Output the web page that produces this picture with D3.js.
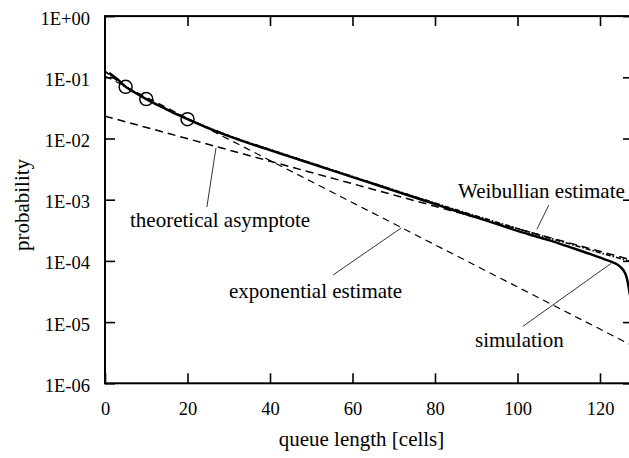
<!DOCTYPE html>
<html>
<head>
<meta charset="utf-8">
<script src="https://cdn.jsdelivr.net/npm/d3@7"></script>
<style>
  html, body { margin: 0; padding: 0; background: #fff; }
  svg { display: block; }
</style>
</head>
<body>
<svg id="chart" width="629" height="458"></svg>
<script>
// Queue length distribution: simulation vs. estimates
const xTicks = [0, 20, 40, 60, 80, 100, 120];
const yTicks = [1, 1e-1, 1e-2, 1e-3, 1e-4, 1e-5, 1e-6];

const simX = [1, 2, 3, 5, 7, 10, 13, 16, 20, 25, 30, 35, 40, 45, 50, 55, 60, 65, 70, 75,
  80, 84, 88, 92, 96, 100, 104, 108, 112, 116, 119, 121, 123, 124, 125, 126, 126.5, 127, 127.5];
const simP = [0.1175, 0.1047, 0.0933, 0.0698, 0.0575, 0.0440, 0.0347, 0.0275, 0.0207, 0.0148,
  0.01096, 0.00832, 0.00646, 0.00501, 0.00389, 0.00302, 0.00234, 0.00182, 0.00141, 0.001096,
  0.000851, 0.000692, 0.000569, 0.000468, 0.000380, 0.000309, 0.000257, 0.000214, 0.000174,
  0.000141, 0.000120, 0.000107, 0.0000955, 0.0000891, 0.0000794, 0.0000646, 0.0000525,
  0.0000355, 0.0000224];

const weibX = [0, 5, 10, 15, 20, 25, 30, 40, 50, 60, 70, 80, 90, 100, 110, 120, 128];
const weibP = [0.1259, 0.0708, 0.0447, 0.0302, 0.0211, 0.0151, 0.0112, 0.00661, 0.00398,
  0.00240, 0.00145, 0.000881, 0.000543, 0.000339, 0.000214, 0.000136, 0.0000955];

const asymX = [0, 32, 64, 96, 128];
const asymP = [0.0232, 0.00597, 0.00154, 0.000397, 0.000102];

const expoX = [0, 32, 64, 96, 128];
const expoP = [0.1047, 0.00826, 0.000653, 0.0000515, 0.00000407];

// simulated points marked with circles
const markX = [5, 10, 20];
const markP = [0.0698, 0.0440, 0.0207];

// annotation labels and their leader lines (data coordinates)
const labels = ["Weibullian estimate", "theoretical asymptote", "exponential estimate", "simulation"];
const leaderFrom = [[107.6, 8.2e-4], [24.7, 7.6e-4], [55.3, 5.9e-5], [101.3, 8.5e-6]];
const leaderTo   = [[104.7, 3.28e-4], [26.9, 7.0e-3], [71.8, 3.45e-4], [122.7, 9.1e-5]];

(function draw() {
  const FONT = '"Liberation Serif", "Times New Roman", serif';
  const svg = d3.select("#chart");
  const mLeft = 105, mRight = 633, mTop = 16.1, mBottom = 383.3;

  const x = d3.scaleLinear().domain([0, 128]).range([mLeft, mRight]);
  const y = d3.scaleLog().domain([1e-6, 1]).range([mBottom, mTop]);

  const fmtY = v => {
    const e = Math.round(Math.log10(v));
    return "1E" + (e >= 0 ? "+" : "-") + String(Math.abs(e)).padStart(2, "0");
  };

  svg.append("defs").append("clipPath").attr("id", "plotclip")
    .append("rect").attr("x", mLeft).attr("y", mTop)
    .attr("width", mRight - mLeft).attr("height", mBottom - mTop);

  // axes with inward ticks on all four sides
  const axB = svg.append("g").attr("transform", `translate(0,${mBottom})`)
    .call(d3.axisBottom(x).tickValues(xTicks).tickSizeInner(-10).tickSizeOuter(0).tickPadding(19).tickFormat(d3.format("d")));
  const axT = svg.append("g").attr("transform", `translate(0,${mTop})`)
    .call(d3.axisTop(x).tickValues(xTicks.slice(1)).tickSizeInner(-10).tickSizeOuter(0).tickFormat(""));
  const axL = svg.append("g").attr("transform", `translate(${mLeft},0)`)
    .call(d3.axisLeft(y).tickValues(yTicks).tickSizeInner(-10).tickSizeOuter(0).tickPadding(15).tickFormat(fmtY));
  const axR = svg.append("g").attr("transform", `translate(${mRight},0)`)
    .call(d3.axisRight(y).tickValues(yTicks).tickSizeInner(-10).tickSizeOuter(0).tickFormat(""));

  [axB, axT, axL, axR].forEach(g => {
    g.select(".domain").remove();
    g.style("font-family", FONT);
    g.selectAll(".tick line").attr("stroke", "#000").attr("stroke-width", 1.6);
    g.selectAll(".tick text").style("font-size", "18.5px").style("font-family", FONT).attr("fill", "#000");
  });
  axL.selectAll(".tick text").attr("dy", "0.43em");

  // frame
  svg.append("rect").attr("x", mLeft).attr("y", mTop)
    .attr("width", mRight - mLeft).attr("height", mBottom - mTop)
    .attr("fill", "none").attr("stroke", "#000").attr("stroke-width", 2);

  const line = d3.line().x(d => x(d[0])).y(d => y(d[1]));
  const zip = (a, b) => a.map((v, i) => [v, b[i]]);

  const plot = svg.append("g").attr("clip-path", "url(#plotclip)");

  plot.append("path").datum(zip(expoX, expoP)).attr("d", line)
    .attr("fill", "none").attr("stroke", "#000").attr("stroke-width", 1.2)
    .attr("stroke-dasharray", "7,5");
  plot.append("path").datum(zip(asymX, asymP)).attr("d", line)
    .attr("fill", "none").attr("stroke", "#000").attr("stroke-width", 1.5)
    .attr("stroke-dasharray", "8,5");
  plot.append("path").datum(zip(weibX, weibP)).attr("d", line.curve(d3.curveMonotoneX))
    .attr("fill", "none").attr("stroke", "#000").attr("stroke-width", 1.6)
    .attr("stroke-dasharray", "5,2,1.5,2");
  plot.append("path").datum(zip(simX, simP)).attr("d", line.curve(d3.curveMonotoneX))
    .attr("fill", "none").attr("stroke", "#000").attr("stroke-width", 2.5)
    .attr("stroke-linejoin", "round");

  plot.selectAll("circle.mark").data(zip(markX, markP)).enter().append("circle")
    .attr("class", "mark")
    .attr("cx", d => x(d[0])).attr("cy", d => y(d[1])).attr("r", 6.5)
    .attr("fill", "none").attr("stroke", "#000").attr("stroke-width", 1.5);

  // leader lines
  svg.selectAll("line.leader").data(labels).enter().append("line")
    .attr("class", "leader")
    .attr("x1", (d, i) => x(leaderFrom[i][0])).attr("y1", (d, i) => y(leaderFrom[i][1]))
    .attr("x2", (d, i) => x(leaderTo[i][0])).attr("y2", (d, i) => y(leaderTo[i][1]))
    .attr("stroke", "#000").attr("stroke-width", 0.8);

  // label placement
  const labelPos = [[458, 198], [130, 227], [229, 298], [475, 347]];
  svg.selectAll("text.anno").data(labels).enter().append("text")
    .attr("class", "anno")
    .attr("x", (d, i) => labelPos[i][0]).attr("y", (d, i) => labelPos[i][1])
    .style("font-family", FONT).style("font-size", "21px").attr("fill", "#000").text(d => d);

  // axis titles
  svg.append("text").attr("x", 361.5).attr("y", 446).attr("text-anchor", "middle")
    .style("font-family", FONT).style("font-size", "21px").text("queue length [cells]");
  svg.append("text").attr("transform", "translate(29,205) rotate(-90)")
    .attr("text-anchor", "middle").style("font-family", FONT).style("font-size", "21px").text("probability");
})();
</script>
</body>
</html>
